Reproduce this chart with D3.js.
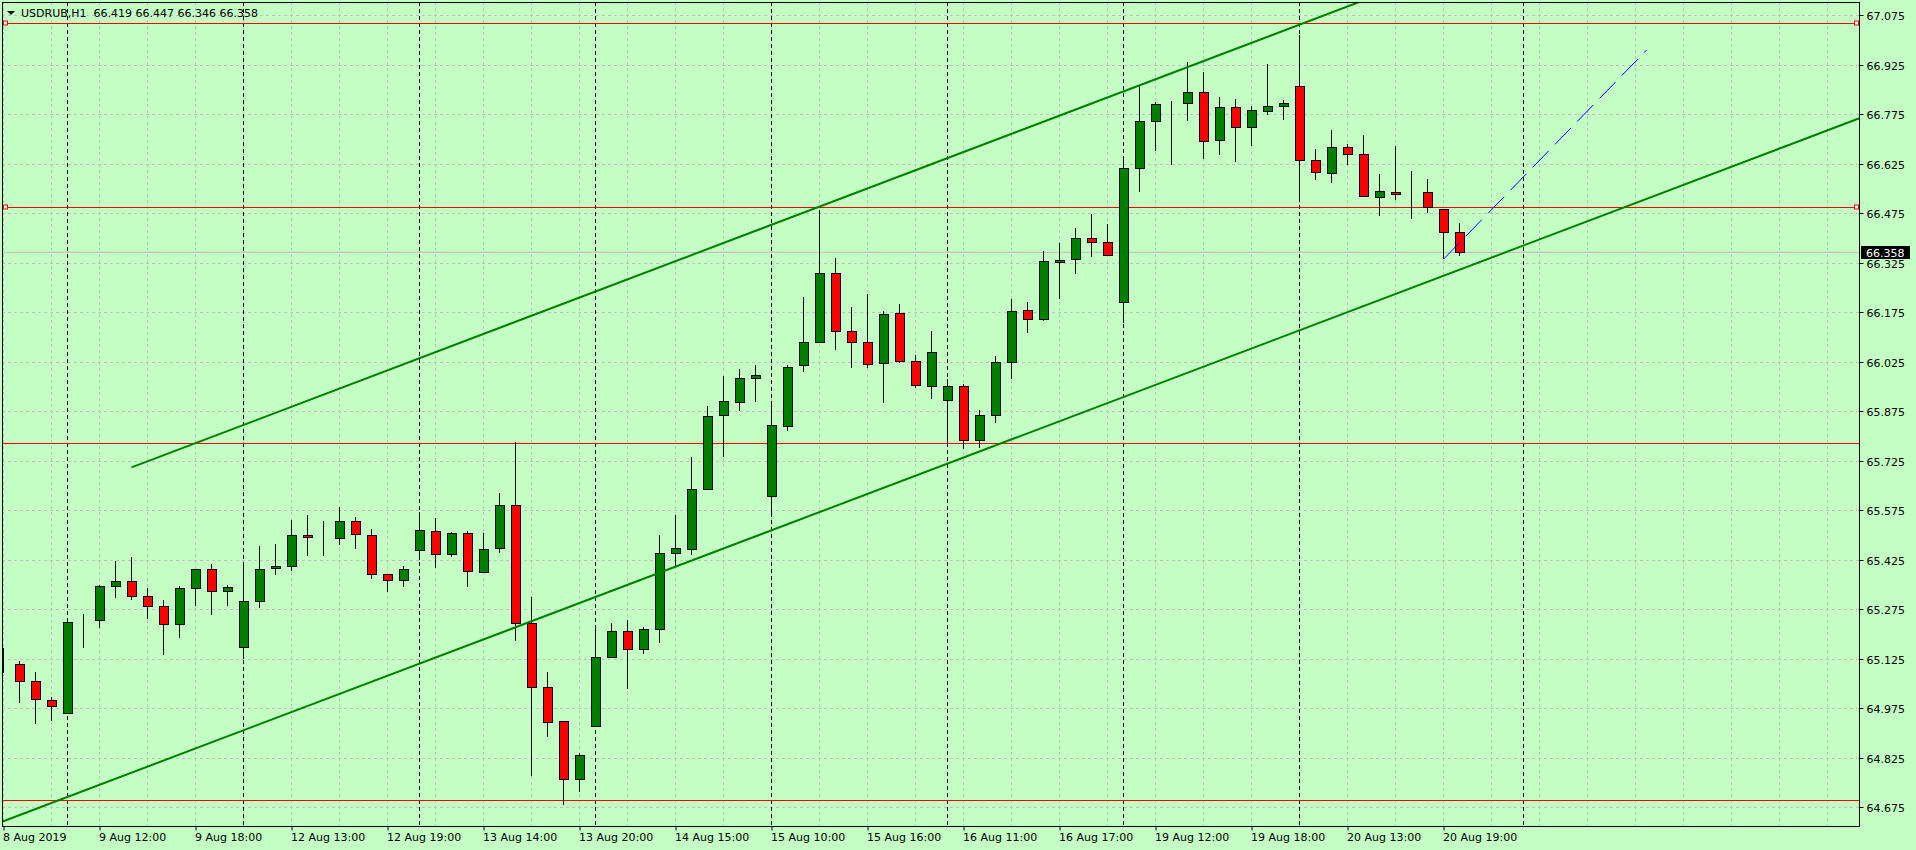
<!DOCTYPE html>
<html>
<head>
<meta charset="utf-8">
<script src="https://cdnjs.cloudflare.com/ajax/libs/d3/7.8.5/d3.min.js"></script>
<style>
  body { margin: 0; background: #c4ffc4; overflow: hidden; }
  svg text { font-family: "DejaVu Sans", sans-serif; font-size: 11px; fill: #000; }
</style>
</head>
<body>
<script>
var title = 'USDRUB,H1  66.419 66.447 66.346 66.358';

// hourly bars, oldest first
var opens  = [65.113,65.108,65.057,65.000,64.960,65.237,65.242,65.345,65.360,65.314,
              65.284,65.230,65.339,65.396,65.330,65.160,65.299,65.399,65.405,65.499,
              65.491,65.490,65.542,65.499,65.381,65.363,65.454,65.511,65.442,65.505,
              65.387,65.460,65.590,65.233,65.039,64.936,64.760,64.920,65.130,65.208,
              65.154,65.214,65.445,65.457,65.639,65.863,65.902,65.975,65.617,65.830,
              66.014,66.084,66.293,66.117,66.084,66.020,66.172,66.027,65.951,65.908,
              65.951,65.787,65.863,66.024,66.181,66.154,66.327,66.336,66.399,66.387,
              66.205,66.611,66.754,66.807,66.808,66.842,66.696,66.796,66.736,66.784,
              66.799,66.860,66.636,66.596,66.675,66.654,66.524,66.539,66.534,66.539,
              66.487,66.419];
var highs  = [65.157,65.117,65.085,65.009,65.238,65.260,65.348,65.421,65.433,65.339,
              65.302,65.345,65.398,65.411,65.348,65.405,65.467,65.473,65.545,65.561,
              65.542,65.585,65.554,65.517,65.383,65.405,65.569,65.551,65.508,65.511,
              65.505,65.627,65.781,65.312,65.085,64.938,64.839,65.224,65.233,65.242,
              65.220,65.499,65.560,65.737,65.891,65.982,66.003,66.015,65.896,66.015,
              66.221,66.485,66.339,66.190,66.230,66.178,66.199,66.045,66.117,65.972,
              65.957,65.879,66.042,66.214,66.205,66.360,66.384,66.430,66.473,66.442,
              66.642,66.860,66.811,66.814,66.933,66.903,66.827,66.820,66.799,66.927,
              66.817,67.015,66.669,66.727,66.684,66.711,66.593,66.678,66.602,66.578,
              66.487,66.447];
var lows   = [65.083,64.992,64.928,64.937,64.958,65.159,65.219,65.310,65.304,65.247,
              65.137,65.189,65.286,65.259,65.286,65.125,65.280,65.380,65.392,65.437,
              65.437,65.471,65.459,65.368,65.328,65.344,65.424,65.401,65.433,65.342,
              65.384,65.445,65.180,64.771,64.889,64.683,64.722,64.917,65.127,65.034,
              65.139,65.172,65.404,65.440,65.637,65.737,65.877,65.902,65.563,65.814,
              65.995,66.082,66.062,66.005,66.005,65.899,66.020,65.947,65.913,65.778,
              65.760,65.763,65.839,65.972,66.111,66.148,66.214,66.290,66.342,66.345,
              66.144,66.540,66.665,66.622,66.756,66.640,66.653,66.631,66.680,66.772,
              66.757,66.508,66.575,66.568,66.620,66.524,66.466,66.514,66.457,66.475,
              66.336,66.346];
var closes = [65.113,65.057,65.004,64.983,65.236,65.237,65.345,65.360,65.314,65.284,
              65.230,65.339,65.396,65.330,65.342,65.299,65.396,65.405,65.499,65.493,
              65.491,65.542,65.502,65.381,65.363,65.396,65.514,65.442,65.505,65.390,
              65.457,65.590,65.233,65.039,64.933,64.760,64.833,65.130,65.208,65.154,
              65.214,65.445,65.460,65.639,65.860,65.905,65.975,65.984,65.833,66.008,
              66.084,66.293,66.117,66.084,66.017,66.169,66.027,65.954,66.054,65.951,
              65.787,65.863,66.024,66.178,66.154,66.330,66.333,66.399,66.387,66.348,
              66.611,66.754,66.805,66.807,66.842,66.693,66.796,66.736,66.787,66.799,
              66.808,66.636,66.599,66.675,66.654,66.527,66.542,66.533,66.534,66.493,
              66.417,66.358];

var yTicks = [64.675,64.825,64.975,65.125,65.275,65.425,65.575,65.725,65.875,
              66.025,66.175,66.325,66.475,66.625,66.775,66.925,67.075];

var xTickBars   = [0,6,12,18,24,30,36,42,48,54,60,66,72,78,84,90];
var xTickLabels = ['8 Aug 2019','9 Aug 12:00','9 Aug 18:00','12 Aug 13:00','12 Aug 19:00',
                   '13 Aug 14:00','13 Aug 20:00','14 Aug 15:00','15 Aug 10:00','15 Aug 16:00',
                   '16 Aug 11:00','16 Aug 17:00','19 Aug 12:00','19 Aug 18:00','20 Aug 13:00',
                   '20 Aug 19:00'];
var daySeparators = [4,15,26,37,48,59,70,81,95];

var levels      = [67.051, 66.493, 65.778, 64.697];
var levelPicked = [true, true, false, false];

// [bar, price] anchor pairs
var channelTop = [[8, 65.705], [66, 66.771]];
var channelBot = [[0, 64.633], [91, 66.304]];
var blueLine   = [[90, 66.336], [102.7, 66.970]];

///////////////////////////////////////////////////////////////////////////////

var W = 1916, H = 850;
var plotL = 2, plotR = 1859, plotT = 2, plotB = 826;

var svg = d3.select('body').append('svg')
            .attr('width', W)
            .attr('height', H);

svg.append('rect').attr('width', W).attr('height', H).attr('fill', '#c4ffc4');

var x = d3.scaleLinear().domain([0, 91]).range([3.5, 1459.5]);
var y = d3.scaleLinear().domain([64.675, 67.075]).range([807.3, 15.3]);

function py(v){ return Math.round(y(v)) + 0.5; }

svg.append('clipPath').attr('id', 'plotclip')
   .append('rect').attr('x', plotL + 1).attr('y', plotT + 1)
   .attr('width', plotR - plotL - 1).attr('height', plotB - plotT - 1);

var plot = svg.append('g').attr('clip-path', 'url(#plotclip)');

// grid
var gridBars = d3.range(0, 115, 3);
plot.selectAll('line.vgrid').data(gridBars).enter().append('line')
    .attr('x1', function(d){ return x(d); }).attr('x2', function(d){ return x(d); })
    .attr('y1', plotT).attr('y2', plotB)
    .attr('stroke', '#c0c0c0').attr('stroke-dasharray', '3,3');

plot.selectAll('line.hgrid').data(yTicks).enter().append('line')
    .attr('x1', plotL).attr('x2', plotR)
    .attr('y1', function(d){ return py(d); }).attr('y2', function(d){ return py(d); })
    .attr('stroke', '#c0c0c0').attr('stroke-dasharray', '3,3');

plot.selectAll('line.sep').data(daySeparators).enter().append('line')
    .attr('x1', function(d){ return x(d); }).attr('x2', function(d){ return x(d); })
    .attr('y1', plotT).attr('y2', plotB)
    .attr('stroke', '#000').attr('stroke-dasharray', '4,3');

// current price line
var last = closes[closes.length - 1];
plot.append('line')
    .attr('x1', plotL).attr('x2', plotR)
    .attr('y1', py(last)).attr('y2', py(last))
    .attr('stroke', '#c0c0c0');

// horizontal levels
plot.selectAll('line.level').data(levels).enter().append('line')
    .attr('x1', plotL).attr('x2', plotR)
    .attr('y1', function(d){ return py(d); }).attr('y2', function(d){ return py(d); })
    .attr('stroke', '#ff0000');

// candles
var bars = d3.range(opens.length);
var candles = plot.selectAll('g.candle').data(bars).enter().append('g')
                  .attr('shape-rendering', 'crispEdges');

candles.append('line')
    .attr('x1', function(i){ return x(i); }).attr('x2', function(i){ return x(i); })
    .attr('y1', function(i){ return y(highs[i]); }).attr('y2', function(i){ return y(lows[i]); })
    .attr('stroke', '#000');

candles.append('rect')
    .attr('x', function(i){ return x(i) - 4.5; })
    .attr('width', 9)
    .attr('y', function(i){ return Math.round(y(Math.max(opens[i], closes[i]))) + 0.5; })
    .attr('height', function(i){ return Math.max(0, Math.round(y(Math.min(opens[i], closes[i]))) - Math.round(y(Math.max(opens[i], closes[i])))); })
    .attr('fill', function(i){ return closes[i] >= opens[i] ? '#008000' : '#ff0000'; })
    .attr('stroke', '#000');

// trend lines
function ray(pts, from, to){
  var b1 = pts[0][0], p1 = pts[0][1], b2 = pts[1][0], p2 = pts[1][1];
  var k = (p2 - p1) / (b2 - b1);
  return [[from, p1 + k * (from - b1)], [to, p1 + k * (to - b1)]];
}

var line = d3.line()
             .x(function(d){ return x(d[0]); })
             .y(function(d){ return y(d[1]); });

plot.append('path').attr('d', line(ray(channelTop, 8, 120)))
    .attr('stroke', '#008000').attr('stroke-width', 2).attr('fill', 'none');
plot.append('path').attr('d', line(ray(channelBot, -2, 120)))
    .attr('stroke', '#008000').attr('stroke-width', 2).attr('fill', 'none');
plot.append('path').attr('d', line(blueLine))
    .attr('stroke', '#0000ff').attr('stroke-width', 1).attr('fill', 'none')
    .attr('stroke-dasharray', '23,9');

// selected level handles
levels.forEach(function(v, i){
  if(!levelPicked[i]) return;
  [5.5, 1856.5].forEach(function(hx){
    svg.append('rect')
       .attr('x', hx - 2).attr('y', py(v) - 2.5)
       .attr('width', 4).attr('height', 4)
       .attr('fill', '#fff').attr('stroke', '#ff0000');
  });
});

// frame
svg.append('rect')
   .attr('x', plotL + 0.5).attr('y', plotT + 0.5)
   .attr('width', plotR - plotL).attr('height', plotB - plotT)
   .attr('fill', 'none').attr('stroke', '#000');

// axes
var yAxis = d3.axisRight(y).tickValues(yTicks).tickFormat(d3.format('.3f')).tickSize(4);
var gy = svg.append('g').attr('transform', 'translate(' + (plotR + 0.5) + ',0)').call(yAxis);
gy.select('.domain').remove();
gy.selectAll('.tick').attr('transform', function(d){ return 'translate(0,' + py(d) + ')'; });
gy.selectAll('.tick text').attr('dy', '0.42em').attr('x', 7)
  .style('font-family', '"DejaVu Sans", sans-serif').style('font-size', '11px');

var xAxis = d3.axisBottom(x).tickValues(xTickBars)
              .tickFormat(function(d, i){ return xTickLabels[i]; }).tickSize(4);
var gx = svg.append('g').attr('transform', 'translate(0,' + (plotB + 0.5) + ')').call(xAxis);
gx.select('.domain').remove();
gx.selectAll('.tick text').attr('text-anchor', 'start').attr('x', -1)
  .style('font-family', '"DejaVu Sans", sans-serif').style('font-size', '11px');

// price tag
var tagY = py(last);
svg.append('rect').attr('x', 1861).attr('y', tagY - 6.5).attr('width', 49).attr('height', 13).attr('fill', '#000');
svg.append('text').attr('x', 1866).attr('y', tagY + 4.5).style('fill', '#fff')
   .text(d3.format('.3f')(last));

// header
svg.append('path').attr('d', 'M7,11 L15,11 L11,15 Z').attr('fill', '#000');
svg.append('text').attr('x', 21).attr('y', 16.5).attr('xml:space', 'preserve')
   .style('white-space', 'pre').text(title);
</script>
</body>
</html>
